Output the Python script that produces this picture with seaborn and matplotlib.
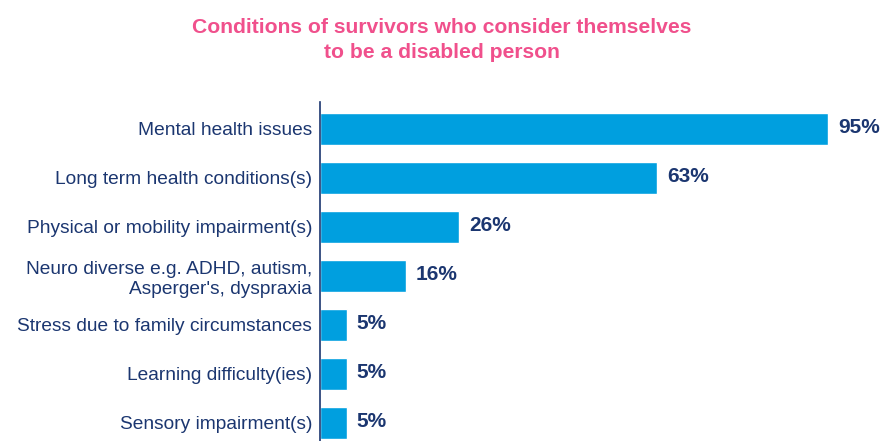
import matplotlib
matplotlib.use("Agg")
import matplotlib.pyplot as plt
import seaborn as sns
import pandas as pd

categories = [
    "Mental health issues",
    "Long term health conditions(s)",
    "Physical or mobility impairment(s)",
    "Neuro diverse e.g. ADHD, autism,\nAsperger's, dyspraxia",
    "Stress due to family circumstances",
    "Learning difficulty(ies)",
    "Sensory impairment(s)",
]
values = [95, 63, 26, 16, 5, 5, 5]

title = "Conditions of survivors who consider themselves\nto be a disabled person"

BAR = "#009FDF"
NAVY = "#1B3670"
PINK = "#F0508C"

sns.set_theme(style="white")
plt.rcParams["font.family"] = ["Liberation Sans", "DejaVu Sans"]

df = pd.DataFrame({"category": categories, "value": values})

fig = plt.figure(figsize=(8.8, 4.41), dpi=100)
ax = fig.add_axes([320 / 880, 0.0, 560 / 880, 1 - 102 / 441])

sns.barplot(data=df, x="value", y="category", color=BAR, saturation=1,
            width=0.65, ax=ax)

ax.set_xlim(0, 560 / 5.35)
ax.set_ylim(6.37, -0.55)
ax.set_xlabel("")
ax.set_ylabel("")
ax.set_xticks([])
ax.set_yticks(range(len(categories)), labels=categories, linespacing=1.2,
              ha="right", multialignment="right")
ax.tick_params(axis="y", length=0, pad=5.5, labelsize=13.8, labelcolor=NAVY)

for spine in ["top", "right", "bottom"]:
    ax.spines[spine].set_visible(False)
ax.spines["left"].set_color(NAVY)
ax.spines["left"].set_linewidth(1.2)

for i, v in enumerate(values):
    ax.annotate(f"{v}%", xy=(v, i), xytext=(7, 1), textcoords="offset points",
                va="center", ha="left", fontsize=15, fontweight="bold",
                color=NAVY)

fig.text(442 / 880, 1 - 40 / 441, title, ha="center", va="center",
         fontsize=15.2, fontweight="bold", color=PINK, linespacing=1.43)

fig.savefig("out.png", dpi=100, facecolor="white")
